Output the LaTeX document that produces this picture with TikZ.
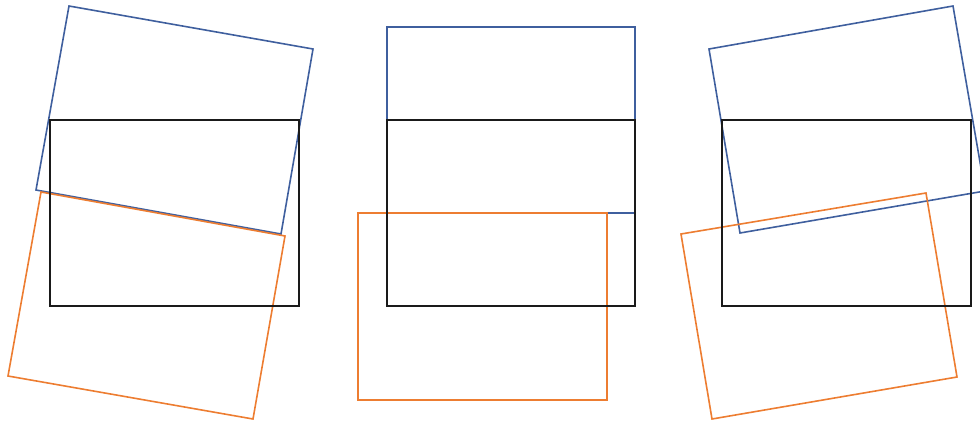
\documentclass[tikz,border=0pt]{standalone}
\definecolor{frameblue}{HTML}{3F5F9E}
\definecolor{frameorange}{HTML}{ED7D31}
\definecolor{frameblack}{HTML}{1A1A1A}
\begin{document}
\begin{tikzpicture}[x=1pt,y=-1pt,
  blackframe/.style={draw=frameblack,line width=1.6pt,line join=miter},
  blueframe/.style={draw=frameblue,line width=1.6pt,line join=miter},
  orangeframe/.style={draw=frameorange,line width=1.6pt,line join=miter}]
\useasboundingbox (0,0) rectangle (980,424);
\clip (0,0) rectangle (980,424);
% left group
\draw[blueframe] (69,6) -- (313,49) -- (281,234) -- (36,190) -- cycle;
\draw[orangeframe] (41,192) -- (285,236) -- (253,419) -- (8,376) -- cycle;
\draw[blackframe] (50,120) rectangle (299,306);
% middle group
\draw[blueframe] (387,27) rectangle (635,213);
\draw[orangeframe] (358,213) rectangle (607,400);
\draw[blackframe] (387,120) rectangle (635,306);
% right group
\draw[blueframe] (709,49) -- (953,6) -- (985,191) -- (740,233) -- cycle;
\draw[orangeframe] (681,234) -- (926,193) -- (957,377) -- (712,419) -- cycle;
\draw[blackframe] (722,120) rectangle (971,306);
\end{tikzpicture}
\end{document}
